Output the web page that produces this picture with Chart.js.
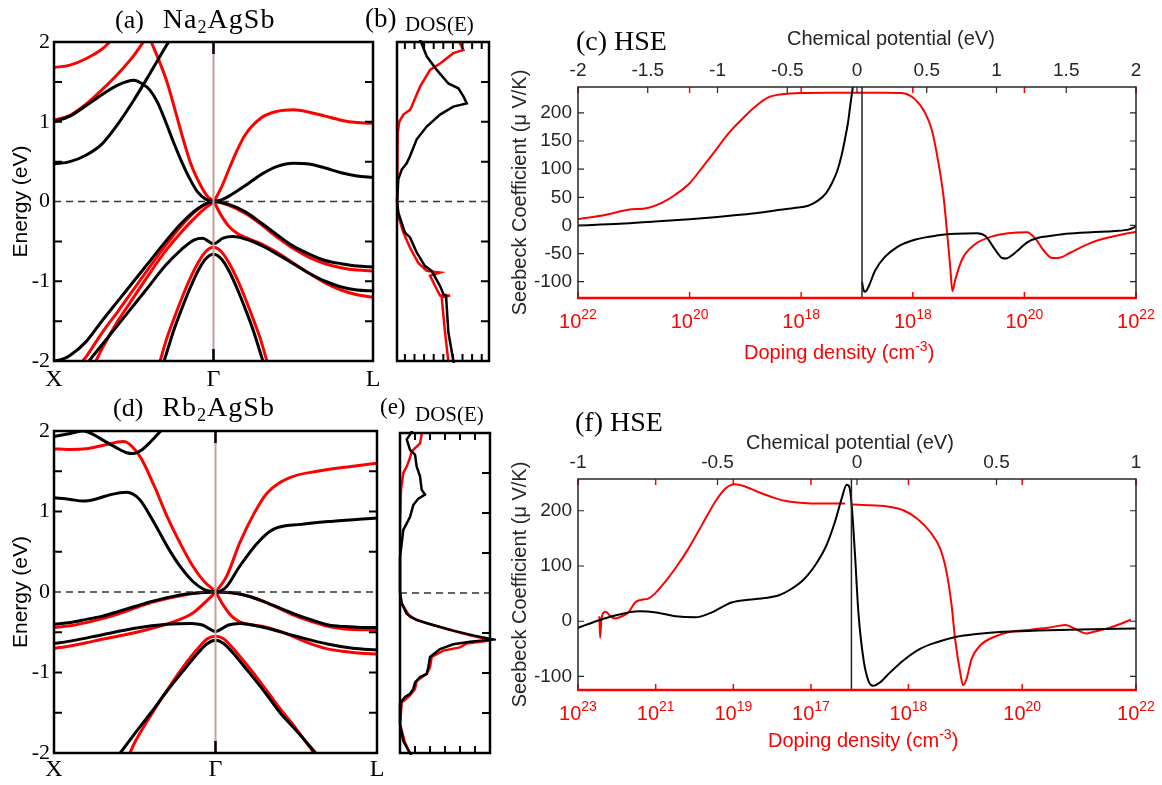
<!DOCTYPE html>
<html>
<head>
<meta charset="utf-8">
<script src="https://cdn.jsdelivr.net/npm/chart.js@4.4.1/dist/chart.umd.min.js"></script>
<style>
  body { margin: 0; background: #fff; }
  #fig { position: relative; width: 1162px; height: 785px; overflow: hidden; background: #fff; }
  #fig canvas { position: absolute; }
  .lbl { position: absolute; white-space: nowrap; line-height: 1; }
  .serif { font-family: "Liberation Serif", "Times New Roman", serif; color: #000; }
  .sans { font-family: "Liberation Sans", Arial, sans-serif; font-size: 20px; color: #262626; }
  .red { color: #ff0000; }
  .sub { font-size: 0.65em; position: relative; top: 0.28em; }
  .sup { font-size: 0.7em; position: relative; top: -0.55em; }
</style>
</head>
<body>
<div id="fig">
  <canvas id="bandA" width="392" height="392" style="left:0;top:0"></canvas>
  <canvas id="dosB" width="104" height="392" style="left:392px;top:0"></canvas>
  <canvas id="seebC" width="662" height="392" style="left:500px;top:0"></canvas>
  <canvas id="bandD" width="392" height="393" style="left:0;top:392px"></canvas>
  <canvas id="dosE" width="104" height="393" style="left:392px;top:392px"></canvas>
  <canvas id="seebF" width="662" height="393" style="left:500px;top:392px"></canvas>

  <div class="lbl serif" style="left:115px;top:5px;font-size:26px">(a)<span style="margin-left:19px;font-size:28px;letter-spacing:1px">Na<span class="sub">2</span>AgSb</span></div>
  <div class="lbl serif" style="left:365px;top:5px;font-size:27px">(b)</div>
  <div class="lbl serif" style="left:405px;top:14px;font-size:21px">DOS(E)</div>
  <div class="lbl serif" style="left:576px;top:27px;font-size:28px">(c) HSE</div>
  <div class="lbl sans" style="left:787px;top:28px">Chemical potential (eV)</div>
  <div class="lbl sans red" style="left:744px;top:342px">Doping density (cm<span class="sup">-3</span>)</div>

  <div class="lbl serif" style="left:113px;top:393px;font-size:26px">(d)<span style="margin-left:19px;font-size:28px;letter-spacing:1px">Rb<span class="sub">2</span>AgSb</span></div>
  <div class="lbl serif" style="left:380px;top:395px;font-size:23px">(e)</div>
  <div class="lbl serif" style="left:415px;top:404px;font-size:21px">DOS(E)</div>
  <div class="lbl serif" style="left:575px;top:408px;font-size:28px">(f) HSE</div>
  <div class="lbl sans" style="left:746px;top:432px">Chemical potential (eV)</div>
  <div class="lbl sans red" style="left:768px;top:730px">Doping density (cm<span class="sup">-3</span>)</div>
</div>

<script>
// ---- band structure, Na2AgSb (k: X=0, Gamma=1, L=2; energy in eV) ----
const kA_bc1 = [0, 0.1, 0.2, 0.3, 0.4, 0.5, 0.55, 0.6, 0.65, 0.7, 0.75, 0.8, 0.85, 0.9, 0.95, 1.0];
const eA_bc1 = [1.0, 1.07, 1.2, 1.34, 1.46, 1.52, 1.48, 1.4, 1.24, 1.0, 0.74, 0.5, 0.29, 0.12, 0.03, 0];
const kA_bc2 = [0, 0.1, 0.2, 0.3, 0.4, 0.5, 0.6, 0.7, 0.75];
const eA_bc2 = [0.47, 0.5, 0.58, 0.72, 0.97, 1.27, 1.6, 1.94, 2.1];
const kA_bc3 = [1.0, 1.05, 1.1, 1.2, 1.3, 1.4, 1.5, 1.6, 1.7, 1.8, 1.9, 2.0];
const eA_bc3 = [0, 0.02, 0.07, 0.2, 0.34, 0.44, 0.48, 0.47, 0.42, 0.36, 0.32, 0.3];
const kA_bv1 = [0, 0.05, 0.1, 0.2, 0.3, 0.4, 0.5, 0.6, 0.7, 0.8, 0.9, 1.0, 1.1, 1.2, 1.3, 1.4, 1.5, 1.6, 1.7, 1.8, 1.9, 2.0];
const eA_bv1 = [-2.0, -1.98, -1.93, -1.76, -1.5, -1.25, -1.0, -0.75, -0.5, -0.27, -0.09, 0, -0.04, -0.13, -0.27, -0.42, -0.56, -0.66, -0.74, -0.78, -0.81, -0.82];
const kA_bv2 = [0.15, 0.22, 0.3, 0.4, 0.5, 0.6, 0.7, 0.8, 0.88, 0.93, 1.0, 1.06, 1.12, 1.2, 1.3, 1.4, 1.5, 1.6, 1.7, 1.8, 1.9, 2.0];
const eA_bv2 = [-2.2, -2.0, -1.8, -1.55, -1.3, -1.05, -0.8, -0.6, -0.48, -0.46, -0.53, -0.46, -0.44, -0.47, -0.55, -0.66, -0.78, -0.9, -1.0, -1.07, -1.11, -1.12];
const kA_bv3 = [0.6, 0.69, 0.75, 0.8, 0.85, 0.9, 0.95, 1.0, 1.05, 1.1, 1.15, 1.2, 1.25, 1.31, 1.4];
const eA_bv3 = [-2.5, -2.0, -1.62, -1.35, -1.1, -0.88, -0.72, -0.66, -0.72, -0.88, -1.1, -1.35, -1.62, -2.0, -2.5];
const kA_rc1 = [0, 0.1, 0.2, 0.3, 0.35, 0.4];
const eA_rc1 = [1.68, 1.71, 1.79, 1.91, 2.0, 2.1];
const kA_rc2 = [0, 0.1, 0.2, 0.3, 0.4, 0.5, 0.56, 0.6];
const eA_rc2 = [1.02, 1.08, 1.22, 1.4, 1.6, 1.83, 2.0, 2.1];
const kA_rx1 = [0.58, 0.61, 0.66, 0.71, 0.76, 0.81, 0.86, 0.92, 0.96, 1.0, 1.05, 1.1, 1.15, 1.2, 1.3, 1.4, 1.5, 1.6, 1.7, 1.8, 1.9, 2.0];
const eA_rx1 = [2.15, 2.0, 1.76, 1.49, 1.14, 0.78, 0.46, 0.2, 0.07, 0, -0.18, -0.32, -0.4, -0.45, -0.53, -0.64, -0.77, -0.9, -1.02, -1.11, -1.17, -1.2];
const kA_rx2 = [0.2, 0.27, 0.3, 0.4, 0.5, 0.6, 0.7, 0.8, 0.9, 0.95, 1.0, 1.05, 1.1, 1.15, 1.2, 1.3, 1.4, 1.5, 1.6, 1.7, 1.8, 1.9, 2.0];
const eA_rx2 = [-2.25, -1.97, -1.85, -1.5, -1.2, -0.9, -0.62, -0.38, -0.17, -0.08, 0, 0.18, 0.42, 0.65, 0.84, 1.05, 1.13, 1.15, 1.12, 1.07, 1.02, 0.99, 0.98];
const kA_rv1 = [0.1, 0.18, 0.2, 0.3, 0.4, 0.5, 0.6, 0.7, 0.8, 0.9, 1.0, 1.1, 1.2, 1.3, 1.4, 1.5, 1.6, 1.7, 1.8, 1.9, 2.0];
const eA_rv1 = [-2.25, -2.0, -1.95, -1.65, -1.38, -1.1, -0.82, -0.55, -0.3, -0.1, 0, -0.05, -0.15, -0.29, -0.45, -0.59, -0.7, -0.78, -0.83, -0.86, -0.87];
const kA_rv2 = [0.6, 0.665, 0.7, 0.75, 0.8, 0.85, 0.9, 0.95, 1.0, 1.05, 1.1, 1.15, 1.2, 1.25, 1.3, 1.335, 1.4];
const eA_rv2 = [-2.35, -2.0, -1.76, -1.48, -1.22, -0.98, -0.78, -0.63, -0.575, -0.63, -0.78, -0.98, -1.22, -1.48, -1.76, -2.0, -2.35];

// ---- band structure, Rb2AgSb ----
const kD_bc1 = [0, 0.1, 0.18, 0.25, 0.3, 0.38, 0.45, 0.49, 0.54, 0.6, 0.66, 0.72];
const eD_bc1 = [1.93, 1.97, 2.0, 1.95, 1.89, 1.8, 1.73, 1.72, 1.76, 1.87, 2.0, 2.15];
const kD_bc2 = [0, 0.1, 0.18, 0.25, 0.35, 0.45, 0.53, 0.62, 0.7, 0.78, 0.86, 0.93, 1.0];
const eD_bc2 = [1.17, 1.15, 1.13, 1.15, 1.21, 1.24, 1.15, 0.86, 0.57, 0.32, 0.13, 0.03, 0];
const kD_bc3 = [1.0, 1.03, 1.07, 1.15, 1.26, 1.36, 1.53, 1.73, 2.0];
const eD_bc3 = [0, 0.01, 0.07, 0.32, 0.61, 0.78, 0.84, 0.88, 0.92];
const kD_v = [0, 0.1, 0.2, 0.3, 0.4, 0.5, 0.6, 0.7, 0.8, 0.9, 1.0, 1.1, 1.2, 1.3, 1.4, 1.5, 1.6, 1.7, 1.8, 1.9, 2.0];
const eD_bv1 = [-0.40, -0.38, -0.34, -0.3, -0.24, -0.18, -0.12, -0.07, -0.03, -0.01, 0, -0.01, -0.05, -0.12, -0.2, -0.28, -0.35, -0.41, -0.43, -0.44, -0.44];
const kD_bv2 = [0, 0.1, 0.3, 0.5, 0.7, 0.85, 0.92, 1.0, 1.08, 1.15, 1.3, 1.5, 1.7, 1.85, 2.0];
const eD_bv2 = [-0.64, -0.61, -0.53, -0.45, -0.4, -0.39, -0.41, -0.49, -0.41, -0.39, -0.44, -0.55, -0.65, -0.7, -0.72];
const kD_bv3 = [0.3, 0.41, 0.5, 0.6, 0.7, 0.8, 0.9, 0.95, 1.0, 1.05, 1.1, 1.2, 1.3, 1.4, 1.5, 1.62, 1.7];
const eD_bv3 = [-2.3, -2.0, -1.76, -1.5, -1.23, -0.98, -0.74, -0.64, -0.6, -0.64, -0.74, -0.98, -1.23, -1.5, -1.72, -2.0, -2.2];
const kD_rx1 = [0, 0.1, 0.2, 0.3, 0.43, 0.53, 0.62, 0.7, 0.78, 0.86, 0.93, 1.0, 1.05, 1.1, 1.15, 1.2, 1.3, 1.4, 1.5, 1.6, 1.7, 1.8, 1.9, 2.0];
const eD_rx1 = [1.78, 1.77, 1.78, 1.82, 1.87, 1.69, 1.32, 0.94, 0.61, 0.32, 0.13, 0, -0.17, -0.3, -0.37, -0.4, -0.43, -0.49, -0.57, -0.65, -0.71, -0.74, -0.76, -0.77];
const kD_rx2 = [0, 0.1, 0.2, 0.29, 0.49, 0.74, 0.86, 0.95, 1.0, 1.07, 1.15, 1.24, 1.32, 1.46, 1.63, 1.84, 2.0];
const eD_rx2 = [-0.7, -0.67, -0.63, -0.59, -0.51, -0.37, -0.26, -0.1, 0, 0.2, 0.61, 0.98, 1.23, 1.42, 1.5, 1.56, 1.6];
const eD_rv1 = [-0.44, -0.42, -0.38, -0.33, -0.27, -0.2, -0.13, -0.08, -0.04, -0.01, 0, -0.01, -0.05, -0.12, -0.21, -0.3, -0.37, -0.43, -0.46, -0.47, -0.47];
const kD_rv2 = [0.4, 0.47, 0.5, 0.6, 0.7, 0.8, 0.9, 0.95, 1.0, 1.05, 1.1, 1.2, 1.3, 1.4, 1.5, 1.61, 1.7];
const eD_rv2 = [-2.25, -2.0, -1.87, -1.53, -1.22, -0.93, -0.68, -0.58, -0.55, -0.58, -0.68, -0.92, -1.18, -1.45, -1.7, -2.0, -2.2];

// ---- density of states (arb. units) against energy ----
const eB_blk = [2.05, 1.98, 1.82, 1.65, 1.48, 1.42, 1.32, 1.23, 1.19, 1.09, 0.94, 0.78, 0.57, 0.48, 0.4, 0.28, 0.03, 0, -0.14, -0.39, -0.45, -0.64, -0.81, -0.87, -1.06, -1.16, -1.18, -1.64, -2.05];
const dB_blk = [2.2, 2.44, 2.94, 3.93, 5.08, 6.07, 6.57, 6.9, 5.57, 4.26, 2.94, 1.95, 1.29, 0.96, 0.47, 0.13, 0.03, 0, 0.13, 0.79, 1.29, 1.95, 2.77, 3.43, 4.26, 4.59, 4.85, 5.08, 5.65];
const eB_red = [2.05, 1.98, 1.9, 1.86, 1.73, 1.65, 1.44, 1.19, 1.15, 1.09, 1.0, 0.86, 0.03, 0, -0.18, -0.39, -0.58, -0.77, -0.87, -0.89, -0.93, -1.1, -1.18, -1.18, -1.2, -1.64, -2.05];
const dB_red = [6.0, 6.24, 6.57, 5.57, 4.26, 3.27, 2.28, 1.45, 1.29, 0.63, 0.23, 0.07, 0.03, 0, 0.13, 0.63, 1.29, 2.11, 2.94, 4.26, 3.27, 3.93, 4.26, 5.25, 4.42, 4.75, 5.12];
const eE_blk = [2.05, 1.98, 1.92, 1.79, 1.73, 1.58, 1.46, 1.29, 1.23, 1.18, 1.1, 0.95, 0.87, 0.79, 0.62, 0.45, 0, -0.13, -0.26, -0.34, -0.4, -0.47, -0.53, -0.58, -0.61, -0.64, -0.7, -0.8, -0.93, -1.01, -1.05, -1.12, -1.2, -1.26, -1.3, -1.37, -1.64, -1.85, -2.05];
const dE_blk = [1.3, 1.0, 0.67, 1.0, 1.5, 1.67, 2.0, 2.17, 2.5, 1.83, 1.33, 1.0, 0.67, 0.33, 0.17, 0, 0, 0.17, 0.67, 1.67, 3.33, 5.33, 7.33, 9.33, 7.0, 5.33, 4.0, 3.0, 2.83, 2.67, 2.0, 1.5, 1.33, 1.0, 0.5, 0.07, 0, 0.33, 1.2];
const eE_red = [2.05, 1.98, 1.87, 1.77, 1.69, 1.58, 1.5, 1.29, 0.87, 0, -0.13, -0.3, -0.38, -0.45, -0.53, -0.59, -0.63, -0.68, -0.72, -0.8, -0.93, -1.01, -1.1, -1.2, -1.28, -1.37, -1.64, -1.87, -2.05];
const dE_red = [2.3, 2.17, 2.0, 1.17, 1.0, 0.67, 0.33, 0.1, 0, 0, 0.17, 1.0, 2.67, 4.67, 7.0, 9.17, 6.67, 6.0, 4.33, 3.17, 3.0, 2.67, 1.67, 1.5, 1.0, 0.17, 0, 0.5, 1.2];

// ---- Seebeck coefficient (uV/K), HSE ----
// black: against chemical potential (eV); red: against log10 doping density, holes left / electrons right
const cMuA = [-2.0, -1.7, -1.45, -1.2, -1.0, -0.75, -0.55, -0.45, -0.35, -0.28, -0.22, -0.18, -0.14, -0.11, -0.085, -0.065, -0.05, -0.035, -0.025];
const cSA = [0, 3, 7, 11, 15, 21, 28, 31, 35, 44, 58, 75, 98, 125, 155, 182, 210, 237, 255];
const cMuB = [0.036, 0.045, 0.057, 0.07, 0.093, 0.13, 0.2, 0.29, 0.42, 0.57, 0.71, 0.86, 0.92, 0.99, 1.04, 1.07, 1.1, 1.15, 1.22, 1.3, 1.38, 1.5, 1.68, 1.85, 1.95, 2.0];
const cSB = [-100, -113, -118, -115, -103, -80, -56, -38, -25, -18, -15, -14, -19, -43, -58, -59, -55, -45, -30, -22, -19, -15, -12, -10, -7, -2];
const cLogP = [22.0, 21.5, 21.1, 20.75, 20.5, 20.25, 20.0, 19.75, 19.5, 19.3, 19.05, 18.8, 18.6, 18.35, 18.0, 17.5, 17.0];
const cSP = [11, 19, 28, 31, 40, 55, 75, 106, 138, 164, 190, 213, 227, 233, 235.5, 236, 236];
const cLogN = [17.0, 17.5, 17.8, 18.04, 18.22, 18.34, 18.46, 18.55, 18.61, 18.67, 18.71, 18.76, 18.88, 19.11, 19.41, 19.71, 20.05, 20.2, 20.35, 20.5, 20.65, 20.81, 21.19, 21.57, 22.0];
const cSN = [236, 236, 235.5, 224, 200, 170, 111, 52, -8, -73, -117, -97, -61, -34, -20, -14, -12, -24, -45, -58, -57, -49, -31, -20, -11];
const cGapMu = 0.036;

const fMu = [-1.0, -0.93, -0.87, -0.78, -0.72, -0.65, -0.58, -0.52, -0.45, -0.39, -0.33, -0.28, -0.24, -0.19, -0.144, -0.109, -0.079, -0.055, -0.037, -0.028, -0.019, -0.007, 0.005, 0.023, 0.041, 0.058, 0.082, 0.118, 0.166, 0.226, 0.286, 0.357, 0.429, 0.524, 0.65, 0.8, 1.0];
const fS = [-12, 1, 10, 18, 16, 9, 7, 16, 34, 39, 42, 47, 57, 76, 106, 138, 180, 222, 247, 244, 210, 119, 16, -68, -108, -117, -111, -93, -71, -50, -38, -28, -23, -19, -17, -15, -13];
const fLogP = [22.45, 22.43, 22.4, 22.35, 22.28, 22.18, 22.05, 21.87, 21.7, 21.53, 21.36, 21.19, 21.02, 20.76, 20.5, 20.16, 19.81, 19.47, 19.21, 18.96, 18.7, 18.36, 18.01, 17.67, 17.2, 16.68, 16.12];
const fSP = [9, -30, 0, 15, 17, 10, 5, 9, 16, 34, 39, 41, 50, 71, 95, 131, 174, 216, 240, 248, 244, 234, 225, 218, 214, 213, 213];
const fLogN = [17.02, 17.33, 17.68, 17.91, 18.15, 18.38, 18.56, 18.67, 18.76, 18.82, 18.91, 18.96, 19.02, 19.11, 19.26, 19.49, 19.79, 20.1, 20.45, 20.76, 20.95, 21.13, 21.3, 21.5, 21.7, 21.91];
const fSN = [211.5, 210, 207, 201, 186, 162, 131, 89, 28, -32, -93, -116, -105, -68, -44, -29, -19, -16, -12, -7, -15, -22, -18, -13, -6, 3];
const fGapMu = -0.02;

// tick values
const kTicks = [0, 1, 2];
const kLabels = ['X', 'Γ', 'L'];
const eTicks = [-2, -1, 0, 1, 2];
const eMinor = [-1.5, -1, -0.5, 0.5, 1, 1.5];
const cMuTicks = [-2, -1.5, -1, -0.5, 0, 0.5, 1, 1.5, 2];
const fMuTicks = [-1, -0.5, 0, 0.5, 1];
const cSTicks = [-100, -50, 0, 50, 100, 150, 200];
const fSTicks = [-100, 0, 100, 200];
const cDopeP = [22, 20, 18], cDopeN = [18, 20, 22];
const fDopeP = [23, 21, 19, 17], fDopeN = [18, 20, 22];

const RED = '#ff0000', BLACK = '#000000', AXIS = '#262626', GAMMA = '#c79e9e';
const SERIF = '"Liberation Serif", "Times New Roman", serif';
const SANS = '"Liberation Sans", Arial, sans-serif';
Chart.defaults.font.family = SANS;

function pts(xs, ys) { return xs.map((x, i) => ({ x: x, y: ys[i] })); }

function line(xs, ys, color, width, extra) {
  return Object.assign({
    data: pts(xs, ys), showLine: true, borderColor: color, borderWidth: width,
    pointRadius: 0, fill: false, cubicInterpolationMode: 'monotone'
  }, extra || {});
}

// log10 doping density -> position on the split bottom axis (-1..1)
function dopePos(ax, logn, side) {
  return side < 0 ? -(logn - ax.p0) / (ax.p1 - ax.p0) : (logn - ax.n0) / (ax.n1 - ax.n0);
}

// box + inward tick marks
function frame(cfg) {
  return {
    id: 'frame',
    afterDatasetsDraw(chart) {
      const { ctx, chartArea: a, scales } = chart;
      ctx.save();
      cfg.ticks.forEach(t => {
        const s = scales[t.scale];
        ctx.strokeStyle = t.color; ctx.lineWidth = t.width;
        ctx.beginPath();
        t.values.forEach(v => {
          const p = s.getPixelForValue(v);
          t.sides.forEach(side => {
            if (side === 'left') { ctx.moveTo(a.left, p); ctx.lineTo(a.left + t.len, p); }
            if (side === 'right') { ctx.moveTo(a.right, p); ctx.lineTo(a.right - t.len, p); }
            if (side === 'top') { ctx.moveTo(p, a.top); ctx.lineTo(p, a.top + t.len); }
            if (side === 'bottom') { ctx.moveTo(p, a.bottom); ctx.lineTo(p, a.bottom - t.len); }
          });
        });
        ctx.stroke();
      });
      ctx.strokeStyle = cfg.box.color; ctx.lineWidth = cfg.box.width;
      ctx.strokeRect(a.left, a.top, a.right - a.left, a.bottom - a.top);
      if (cfg.bottom) {
        ctx.strokeStyle = cfg.bottom.color; ctx.lineWidth = cfg.bottom.width;
        ctx.beginPath(); ctx.moveTo(a.left - 1, a.bottom); ctx.lineTo(a.right + 1, a.bottom); ctx.stroke();
      }
      ctx.restore();
    }
  };
}

// "10^n" labels under the doping axis
function powLabels(scaleId, ticks, baseline) {
  return {
    id: 'powLabels',
    afterDraw(chart) {
      const s = chart.scales[scaleId], ctx = chart.ctx;
      ctx.save();
      ctx.fillStyle = RED; ctx.textBaseline = 'alphabetic'; ctx.textAlign = 'left';
      ticks.forEach(t => {
        const x = s.getPixelForValue(t.pos);
        ctx.font = '20px ' + SANS; const w1 = ctx.measureText('10').width;
        ctx.font = '14px ' + SANS; const w2 = ctx.measureText(String(t.exp)).width;
        const x0 = x - (w1 + w2) / 2;
        ctx.font = '20px ' + SANS; ctx.fillText('10', x0, baseline);
        ctx.font = '14px ' + SANS; ctx.fillText(String(t.exp), x0 + w1, baseline - 9);
      });
      ctx.restore();
    }
  };
}

const noGrid = { display: false, drawTicks: false };
const base = {
  responsive: false, animation: false, events: [],
  plugins: { legend: { display: false }, tooltip: { enabled: false } }
};

function bandChart(id, black, red, g) {
  const sets = [
    line([1, 1], [-2, 2], GAMMA, 2, { cubicInterpolationMode: 'default' }),
    line([0, 2], [0, 0], '#333333', 1.5, { borderDash: [7, 5], cubicInterpolationMode: 'default' })
  ];
  black.forEach(b => sets.push(line(b[0], b[1], BLACK, 3)));
  red.forEach(b => sets.push(line(b[0], b[1], RED, 3)));
  return new Chart(document.getElementById(id), {
    type: 'scatter',
    data: { datasets: sets },
    options: Object.assign({}, base, {
      layout: { padding: { top: g.top, right: g.right, left: 0, bottom: 0 } },
      scales: {
        x: {
          type: 'linear', min: 0, max: 2,
          afterBuildTicks: s => { s.ticks = kTicks.map(v => ({ value: v })); },
          ticks: { callback: (v, i) => kLabels[i], autoSkip: false, maxRotation: 0, padding: g.xPad, color: '#000', font: { family: SERIF, size: 24 } },
          grid: noGrid, border: { display: false },
          afterFit: s => { s.height = g.xh; }
        },
        y: {
          min: -2, max: 2,
          afterBuildTicks: s => { s.ticks = eTicks.map(v => ({ value: v })); },
          ticks: { callback: v => String(v), padding: 4, color: '#000', font: { family: SERIF, size: 22 } },
          title: { display: true, text: 'Energy (eV)', color: '#000', font: { family: SANS, size: 21 }, padding: { top: 9, bottom: 0 } },
          grid: noGrid, border: { display: false },
          afterFit: s => { s.width = 54; }
        }
      }
    }),
    plugins: [frame({
      box: { color: '#000', width: 2.5 },
      ticks: [
        { scale: 'y', values: eMinor, sides: ['left', 'right'], len: 8, color: '#000', width: 2 },
        { scale: 'x', values: [1], sides: ['top', 'bottom'], len: 12, color: '#000', width: 2.5 }
      ]
    })]
  });
}

function dosChart(id, blk, red, g) {
  const sets = [
    line([0, g.max], [0, 0], '#333333', 1.5, { borderDash: [7, 5], cubicInterpolationMode: 'default' }),
    line(blk[1], blk[0], BLACK, 2.5, { cubicInterpolationMode: 'default', tension: 0, clip: { left: 2, top: 2, right: 6, bottom: 2 } }),
    line(red[1], red[0], RED, 2.5, { cubicInterpolationMode: 'default', tension: 0 })
  ];
  return new Chart(document.getElementById(id), {
    type: 'scatter',
    data: { datasets: sets },
    options: Object.assign({}, base, {
      layout: { padding: g.pad },
      scales: {
        x: { type: 'linear', min: 0, max: g.max, display: false },
        y: { min: -2, max: 2, display: false }
      }
    }),
    plugins: [frame({
      box: { color: '#000', width: 2.5 },
      ticks: [
        { scale: 'x', values: g.ticks, sides: ['top', 'bottom'], len: 7, color: '#000', width: 2 },
        { scale: 'y', values: eMinor, sides: ['right'], len: 8, color: '#000', width: 2 }
      ]
    })]
  });
}

function seebeckChart(id, p) {
  const sets = [line([p.gap, p.gap], [p.yMin, p.yMax], AXIS, 1.5, { xAxisID: 'xTop', cubicInterpolationMode: 'default' })];
  p.black.forEach(b => sets.push(line(b[0], b[1], BLACK, 2, { xAxisID: 'xTop' })));
  sets.push(line(p.redP[0].map(v => dopePos(p.axis, v, -1)), p.redP[1], RED, 2, { xAxisID: 'x' }));
  sets.push(line(p.redN[0].map(v => dopePos(p.axis, v, 1)), p.redN[1], RED, 2, { xAxisID: 'x' }));
  const dope = p.ticksP.map(e => ({ pos: dopePos(p.axis, e, -1), exp: e }))
    .concat(p.ticksN.map(e => ({ pos: dopePos(p.axis, e, 1), exp: e })));
  return new Chart(document.getElementById(id), {
    type: 'scatter',
    data: { datasets: sets },
    options: Object.assign({}, base, {
      layout: { padding: { top: 0, right: 26, left: 0, bottom: 0 } },
      scales: {
        x: {
          type: 'linear', position: 'bottom', min: -1, max: 1,
          ticks: { display: false }, grid: noGrid, border: { display: false },
          afterFit: s => { s.height = p.xh; }
        },
        xTop: {
          type: 'linear', position: 'top', min: -p.muMax, max: p.muMax,
          afterBuildTicks: s => { s.ticks = p.muTicks.map(v => ({ value: v })); },
          ticks: { callback: v => String(v), autoSkip: false, maxRotation: 0, padding: 5, color: AXIS, font: { size: 19 } },
          grid: noGrid, border: { display: false },
          afterFit: s => { s.height = 87; }
        },
        y: {
          min: p.yMin, max: p.yMax,
          afterBuildTicks: s => { s.ticks = p.sTicks.map(v => ({ value: v })); },
          ticks: { callback: v => String(v), padding: 6, color: AXIS, font: { size: 19 } },
          title: { display: true, text: 'Seebeck Coefficient (μ V/K)', color: AXIS, font: { size: 20 }, padding: { top: 8, bottom: 0 } },
          grid: noGrid, border: { display: false },
          afterFit: s => { s.width = 78; }
        }
      }
    }),
    plugins: [
      frame({
        box: { color: AXIS, width: 1.5 },
        bottom: { color: RED, width: 2.5 },
        ticks: [
          { scale: 'y', values: p.sTicks, sides: ['left', 'right'], len: 6, color: AXIS, width: 1.2 },
          { scale: 'xTop', values: p.muTicks, sides: ['top'], len: 6, color: AXIS, width: 1.2 },
          { scale: 'x', values: dope.map(t => t.pos), sides: ['top', 'bottom'], len: 6, color: RED, width: 1.5 }
        ]
      }),
      powLabels('x', dope, 328)
    ]
  });
}

bandChart('bandA',
  [[kA_bc1, eA_bc1], [kA_bc2, eA_bc2], [kA_bc3, eA_bc3], [kA_bv1, eA_bv1], [kA_bv2, eA_bv2], [kA_bv3, eA_bv3]],
  [[kA_rc1, eA_rc1], [kA_rc2, eA_rc2], [kA_rx1, eA_rx1], [kA_rx2, eA_rx2], [kA_rv1, eA_rv1], [kA_rv2, eA_rv2]],
  { top: 42, right: 19, xh: 31, xPad: 4 });

bandChart('bandD',
  [[kD_bc1, eD_bc1], [kD_bc2, eD_bc2], [kD_bc3, eD_bc3], [kD_v, eD_bv1], [kD_bv2, eD_bv2], [kD_bv3, eD_bv3]],
  [[kD_rx1, eD_rx1], [kD_rx2, eD_rx2], [kD_v, eD_rv1], [kD_rv2, eD_rv2]],
  { top: 39, right: 15, xh: 32, xPad: 2 });

dosChart('dosB', [eB_blk, dB_blk], [eB_red, dB_red],
  { max: 9.1, pad: { left: 5, right: 7, top: 42, bottom: 31 }, ticks: [0.78, 1.73, 2.68, 3.63, 4.58, 5.53, 6.48, 7.43, 8.38] });

dosChart('dosE', [eE_blk, dE_blk], [eE_red, dE_red],
  { max: 9, pad: { left: 8, right: 6, top: 41, bottom: 32 }, ticks: [1.5, 3, 4.5, 6, 7.5] });

seebeckChart('seebC', {
  muMax: 2, yMin: -129, yMax: 246, xh: 94, gap: cGapMu,
  muTicks: cMuTicks, sTicks: cSTicks,
  axis: { p0: 17, p1: 22, n0: 17, n1: 22 }, ticksP: cDopeP, ticksN: cDopeN,
  black: [[cMuA, cSA], [cMuB, cSB]],
  redP: [cLogP, cSP], redN: [cLogN, cSN]
});

seebeckChart('seebF', {
  muMax: 1, yMin: -124.5, yMax: 257.5, xh: 95, gap: fGapMu,
  muTicks: fMuTicks, sTicks: fSTicks,
  axis: { p0: 15.815, p1: 23, n0: 17.096, n1: 22 }, ticksP: fDopeP, ticksN: fDopeN,
  black: [[fMu, fS]],
  redP: [fLogP, fSP], redN: [fLogN, fSN]
});
</script>
</body>
</html>
